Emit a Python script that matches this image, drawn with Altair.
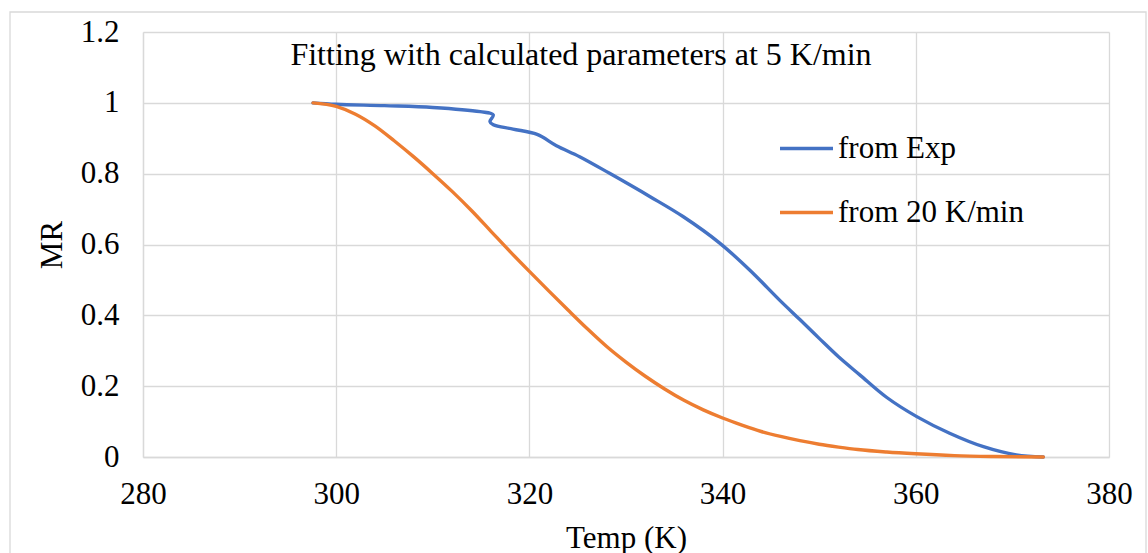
import altair as alt
import pandas as pd

# ---- data ----
exp_temp = [297.6, 300.0, 305.0, 310.0, 314.9, 316.26, 315.92, 316.26, 318.3, 320.8,
            322.8, 325.2, 328.3, 332.5, 335.9, 339.7, 342.8, 345.9, 348.0, 350.0,
            352.0, 354.2, 357.0, 360.1, 363.5, 367.0, 370.4, 373.2]
exp_mr = [1.000, 0.996, 0.992, 0.987, 0.975, 0.966, 0.947, 0.938, 0.926, 0.911,
          0.879, 0.848, 0.801, 0.735, 0.679, 0.604, 0.528, 0.443, 0.388, 0.335,
          0.283, 0.232, 0.168, 0.114, 0.067, 0.029, 0.006, 0.000]

fit_temp = [297.6, 300.0, 302.0, 304.0, 306.0, 308.0, 310.0, 312.0, 314.0, 316.0,
            318.0, 320.0, 322.0, 324.0, 326.0, 328.0, 330.0, 332.0, 334.0, 336.0,
            338.0, 340.0, 342.0, 344.0, 346.0, 348.0, 350.0, 352.0, 354.0, 357.0,
            360.0, 364.0, 368.0, 373.2]
fit_mr = [1.000, 0.990, 0.968, 0.935, 0.893, 0.848, 0.800, 0.750, 0.696, 0.638,
          0.580, 0.524, 0.469, 0.415, 0.362, 0.312, 0.268, 0.228, 0.192, 0.160,
          0.133, 0.110, 0.090, 0.072, 0.058, 0.046, 0.036, 0.028, 0.021, 0.014,
          0.009, 0.004, 0.0015, 0.000]

series_names = ["from Exp", "from 20 K/min"]
series_colors = ["#4472C4", "#ED7D31"]
x_ticks = [280, 300, 320, 340, 360, 380]
y_ticks = [0, 0.2, 0.4, 0.6, 0.8, 1.0, 1.2]
chart_title = "Fitting with calculated parameters at 5 K/min"

rows = []
for i, (t, m) in enumerate(zip(exp_temp, exp_mr)):
    rows.append({"series": series_names[0], "T": t, "MR": m, "idx": i})
for i, (t, m) in enumerate(zip(fit_temp, fit_mr)):
    rows.append({"series": series_names[1], "T": t, "MR": m, "idx": i})
df = pd.DataFrame(rows)

FONT = "Liberation Serif"
GRID = "#d9d9d9"

x_enc = alt.X("T:Q",
              scale=alt.Scale(domain=[280, 380], nice=False, zero=False),
              axis=alt.Axis(values=x_ticks, title="Temp (K)", format="d",
                            labelPadding=22, titlePadding=14, labelFlush=False,
                            labelOverlap=False,
                            labelFont=FONT, titleFont=FONT))
y_enc = alt.Y("MR:Q",
              scale=alt.Scale(domain=[0, 1.2], nice=False),
              axis=alt.Axis(values=y_ticks, title="MR", format="~g",
                            labelPadding=24, titlePadding=12, labelFlush=False,
                            labelOverlap=False,
                            labelFont=FONT, titleFont=FONT))
color_enc = alt.Color("series:N",
                      scale=alt.Scale(domain=series_names, range=series_colors),
                      legend=alt.Legend(title=None, orient="none",
                                        legendX=635, legendY=88,
                                        symbolType="stroke", symbolSize=2809,
                                        symbolStrokeWidth=3.4,
                                        labelFontSize=31, labelFont=FONT,
                                        labelColor="black", labelOffset=3,
                                        rowPadding=20, labelLimit=400))

base = alt.Chart(df).encode(x=x_enc, y=y_enc, color=color_enc, order="idx:Q")

exp_line = base.transform_filter(alt.datum.series == series_names[0]).mark_line(
    strokeWidth=3.4, strokeCap="round", strokeJoin="round", interpolate="catmull-rom")
fit_line = base.transform_filter(alt.datum.series == series_names[1]).mark_line(
    strokeWidth=3.4, strokeCap="round", strokeJoin="round", interpolate="monotone")

title_text = alt.Chart(pd.DataFrame({"t": [chart_title]})).mark_text(
    font=FONT, fontSize=32, color="black", align="center", baseline="middle"
).encode(text="t:N", x=alt.value(438), y=alt.value(23))

frame = alt.Chart(pd.DataFrame({"a": [0]})).mark_rect(
    fill=None, stroke=GRID, strokeWidth=1.3
).encode(x=alt.value(-133), x2=alt.value(1003), y=alt.value(-20), y2=alt.value(620))

chart = alt.layer(frame, exp_line, fit_line, title_text).properties(
    width=966, height=425,
    autosize=alt.AutoSizeParams(type="none"),
    padding={"left": 143, "top": 32, "right": 39, "bottom": 96},
    background="white",
).configure(font=FONT).configure_axis(
    labelFont=FONT, titleFont=FONT, labelFontSize=31, titleFontSize=31,
    labelColor="black", titleColor="black", titleFontWeight="normal",
    grid=True, gridColor=GRID, gridWidth=1.3,
    domain=True, domainColor=GRID, domainWidth=1.3, ticks=False,
).configure_legend(labelFont=FONT).configure_view(stroke=None)

chart.save("out.html", embed_options={"renderer": "svg", "actions": False})
